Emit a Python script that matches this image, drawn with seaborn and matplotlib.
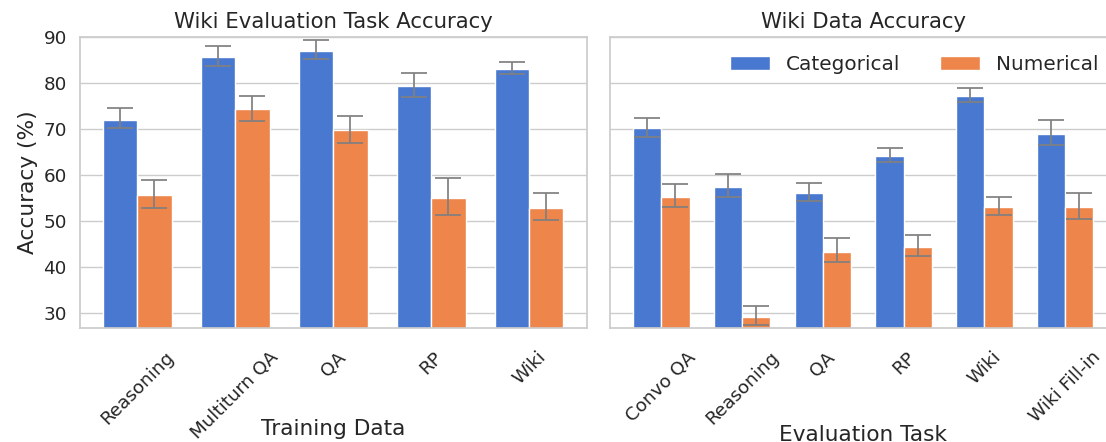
import numpy as np
import pandas as pd
import matplotlib
matplotlib.use("Agg")
import matplotlib.pyplot as plt
import seaborn as sns

# ---------------- data ----------------
series_names = ["Categorical", "Numerical"]

train_cats = ["Reasoning", "Multiturn QA", "QA", "RP", "Wiki"]
train_cat_vals = [72.0, 85.5, 87.0, 79.2, 82.9]
train_cat_lo = [70.1, 83.7, 85.1, 76.8, 81.9]
train_cat_hi = [74.4, 87.9, 89.3, 82.2, 84.5]
train_num_vals = [55.5, 74.2, 69.7, 55.0, 52.7]
train_num_lo = [52.8, 71.6, 66.9, 51.3, 50.1]
train_num_hi = [58.8, 77.2, 72.8, 59.3, 56.0]

eval_cats = ["Convo QA", "Reasoning", "QA", "RP", "Wiki", "Wiki Fill-in"]
eval_cat_vals = [70.1, 57.3, 56.0, 64.0, 77.1, 68.9]
eval_cat_lo = [68.3, 55.1, 54.3, 62.7, 75.9, 66.4]
eval_cat_hi = [72.4, 60.2, 58.2, 65.9, 78.8, 72.0]
eval_num_vals = [55.2, 29.1, 43.3, 44.2, 53.0, 52.9]
eval_num_lo = [53.0, 27.3, 41.0, 42.3, 51.3, 50.4]
eval_num_hi = [58.0, 31.5, 46.2, 46.9, 55.2, 56.0]

y_ticks = [30, 40, 50, 60, 70, 80, 90]

# ---------------- style ----------------
sns.set_theme(style="whitegrid", context="notebook", font_scale=1.2)
plt.rcParams["font.family"] = ["DejaVu Sans"]
palette = sns.color_palette("muted", 2)

TITLE_FS = 15.3
LABEL_FS = 15.6
LEGEND_FS = 14.4
TICK_FS = 13.2


def make_df(cats, cv, nv):
    return pd.DataFrame({
        "category": list(cats) * 2,
        "series": [series_names[0]] * len(cats) + [series_names[1]] * len(cats),
        "value": list(cv) + list(nv),
    })


W, H = 1106, 442
fig = plt.figure(figsize=(W / 100, H / 100), dpi=100)
ax_bottom = 1 - 328 / H
ax_height = (328 - 36.7) / H
ax_width = 506.5 / W
ax1 = fig.add_axes([80 / W, ax_bottom, ax_width, ax_height])
ax2 = fig.add_axes([610 / W, ax_bottom, ax_width, ax_height], sharey=ax1)

panels = [
    (ax1, train_cats, (train_cat_vals, train_cat_lo, train_cat_hi),
     (train_num_vals, train_num_lo, train_num_hi),
     "Wiki Evaluation Task Accuracy", "Training Data", -0.312),
    (ax2, eval_cats, (eval_cat_vals, eval_cat_lo, eval_cat_hi),
     (eval_num_vals, eval_num_lo, eval_num_hi),
     "Wiki Data Accuracy", "Evaluation Task", -0.333),
]

bar_w = 0.7
for ax, cats, cser, nser, title, xlabel, label_y in panels:
    df = make_df(cats, cser[0], nser[0])
    sns.barplot(data=df, x="category", y="value", hue="series",
                hue_order=series_names, order=cats, palette=palette,
                saturation=1, width=bar_w, errorbar=None,
                edgecolor="white", linewidth=1.0, ax=ax, legend=False)
    for cont, (vals, lo, hi) in zip(ax.containers[:2], [cser, nser]):
        xs = [p.get_x() + p.get_width() / 2 for p in cont.patches]
        vals = np.asarray(vals)
        yerr = np.vstack([vals - np.asarray(lo), np.asarray(hi) - vals])
        ax.errorbar(xs, vals, yerr=yerr, fmt="none", ecolor="gray",
                    elinewidth=1.25, capsize=9.5, capthick=1.25, zorder=3)
    n = len(cats)
    pad = 0.05 * (n - 1 + bar_w)
    ax.set_xlim(-bar_w / 2 - pad, n - 1 + bar_w / 2 + pad)
    ax.set_title(title, fontsize=TITLE_FS)
    ax.set_xlabel(xlabel, fontsize=LABEL_FS)
    ax.xaxis.set_label_coords(0.5, label_y)
    ax.tick_params(axis="x", labelrotation=45, labelsize=TICK_FS, pad=8.5)
    ax.tick_params(axis="y", labelsize=TICK_FS)
    for lab in ax.get_xticklabels():
        lab.set_ha("center")

ax1.set_ylim(26.7, 90)
ax1.set_yticks(y_ticks)
ax1.set_ylabel("Accuracy (%)", fontsize=LABEL_FS)
ax2.set_ylabel("")
ax2.tick_params(axis="y", labelleft=False)

handles = [plt.Rectangle((0, 0), 1, 1, facecolor=palette[i], edgecolor="white")
           for i in range(2)]
ax2.legend(handles, series_names, loc="upper right", ncol=2, frameon=False,
           fontsize=LEGEND_FS)

fig.savefig("out.png", dpi=100)
